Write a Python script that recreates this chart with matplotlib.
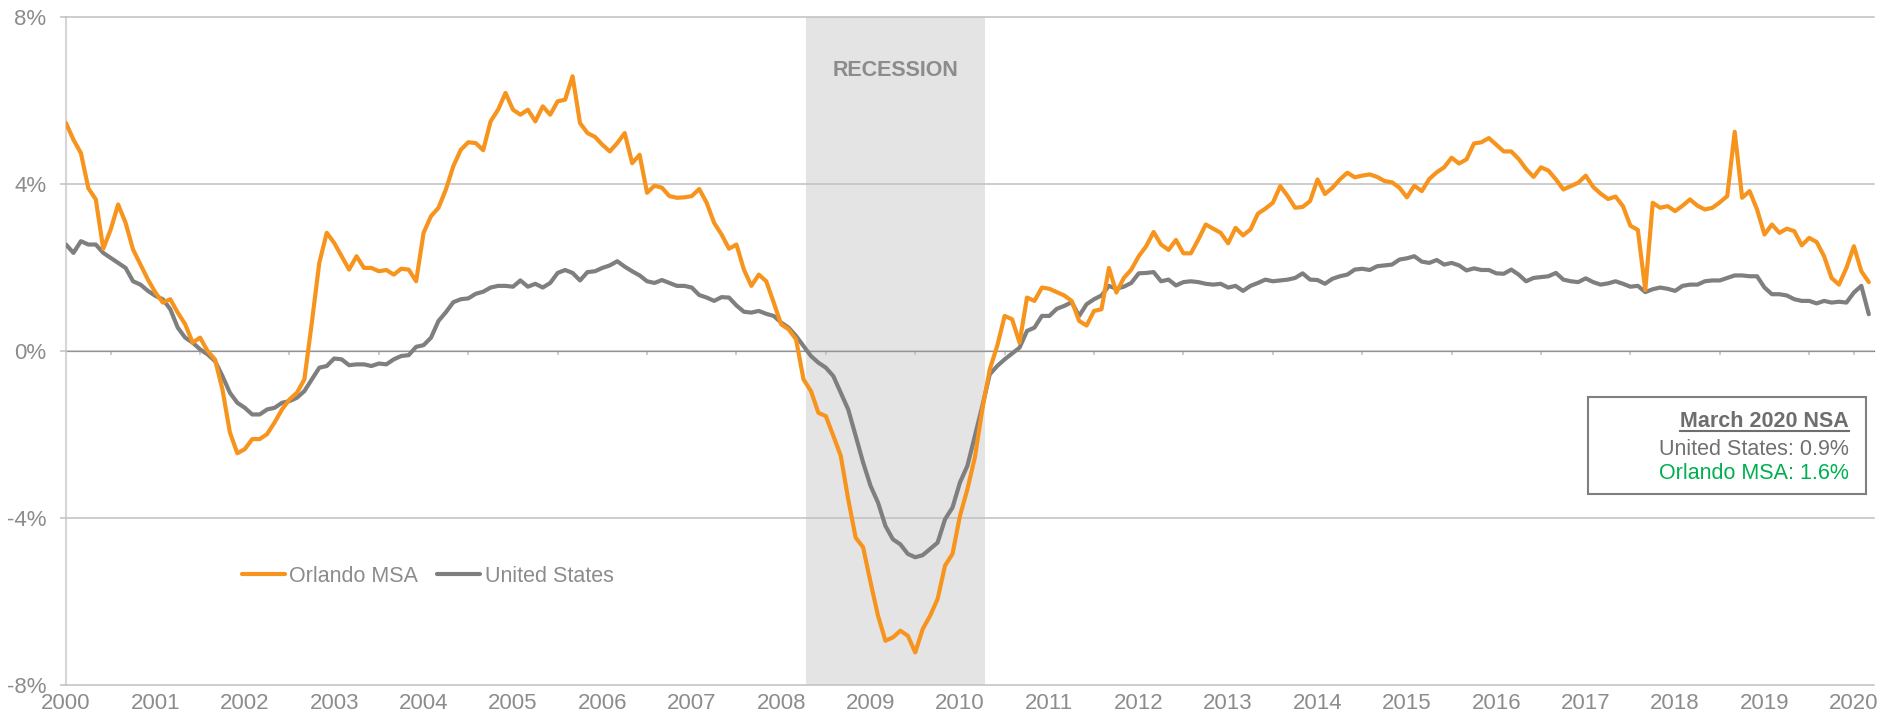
import numpy as np
import matplotlib
matplotlib.use("Agg")
import matplotlib.pyplot as plt
from matplotlib.lines import Line2D
from matplotlib.patches import Rectangle

plt.rcParams["font.family"] = ["Liberation Sans", "DejaVu Sans"]

# monthly values, Jan 2000 .. Mar 2020 (% change, year over year)
orlando = [
    5.46, 5.06, 4.74, 3.9, 3.63, 2.45, 2.91, 3.51, 3.07, 2.43, 2.07, 1.71,
    1.40, 1.16, 1.24, 0.92, 0.64, 0.2, 0.32, 0.0, -0.2, -0.92, -1.95, -2.45,
    -2.35, -2.11, -2.11, -1.99, -1.71, -1.40, -1.16, -1.0, -0.68, 0.68, 2.11, 2.83,
    2.59, 2.27, 1.95, 2.27, 1.99, 1.99, 1.91, 1.94, 1.83, 1.97, 1.95, 1.67,
    2.83, 3.23, 3.43, 3.87, 4.43, 4.82, 5.0, 4.98, 4.81, 5.5, 5.78, 6.18,
    5.78, 5.66, 5.78, 5.5, 5.86, 5.66, 5.98, 6.02, 6.58, 5.46, 5.22, 5.13,
    4.94, 4.78, 4.98, 5.22, 4.5, 4.7, 3.79, 3.96, 3.91, 3.71, 3.67, 3.68,
    3.71, 3.88, 3.55, 3.07, 2.79, 2.45, 2.55, 1.95, 1.56, 1.83, 1.67, 1.16,
    0.64, 0.52, 0.28, -0.68, -0.96, -1.48, -1.56, -2.03, -2.51, -3.55, -4.47, -4.7,
    -5.54, -6.34, -6.94, -6.86, -6.7, -6.82, -7.22, -6.66, -6.34, -5.94, -5.14, -4.86,
    -3.95, -3.31, -2.55, -1.4, -0.44, 0.12, 0.84, 0.76, 0.2, 1.28, 1.2, 1.52,
    1.49, 1.41, 1.33, 1.2, 0.72, 0.61, 0.96, 1.0, 1.99, 1.4, 1.75, 1.95,
    2.27, 2.51, 2.85, 2.55, 2.42, 2.66, 2.34, 2.34, 2.67, 3.03, 2.93, 2.83,
    2.58, 2.95, 2.77, 2.91, 3.29, 3.41, 3.55, 3.95, 3.71, 3.43, 3.45, 3.59,
    4.11, 3.76, 3.91, 4.11, 4.27, 4.16, 4.2, 4.23, 4.17, 4.07, 4.04, 3.91,
    3.68, 3.96, 3.83, 4.12, 4.28, 4.4, 4.63, 4.49, 4.59, 4.97, 5.0, 5.1,
    4.94, 4.78, 4.78, 4.6, 4.36, 4.17, 4.4, 4.32, 4.11, 3.87, 3.95, 4.03,
    4.2, 3.93, 3.77, 3.64, 3.7, 3.47, 3.0, 2.9, 1.46, 3.55, 3.43, 3.47,
    3.35, 3.48, 3.63, 3.48, 3.39, 3.43, 3.56, 3.71, 5.25, 3.67, 3.83, 3.39,
    2.79, 3.03, 2.83, 2.93, 2.87, 2.53, 2.71, 2.61, 2.27, 1.75, 1.59, 1.99,
    2.51, 1.91, 1.65,
]

united_states = [
    2.55, 2.35, 2.63, 2.55, 2.55, 2.35, 2.23, 2.11, 1.99, 1.67, 1.59, 1.44,
    1.32, 1.24, 1.0, 0.56, 0.32, 0.2, 0.04, -0.08, -0.24, -0.6, -1.0, -1.24,
    -1.36, -1.52, -1.52, -1.40, -1.36, -1.24, -1.2, -1.12, -0.96, -0.68, -0.4, -0.36,
    -0.18, -0.2, -0.34, -0.32, -0.32, -0.36, -0.3, -0.32, -0.2, -0.12, -0.1, 0.1,
    0.14, 0.32, 0.72, 0.93, 1.17, 1.24, 1.26, 1.37, 1.42, 1.52, 1.56, 1.56,
    1.54, 1.69, 1.54, 1.61, 1.52, 1.63, 1.87, 1.94, 1.87, 1.69, 1.89, 1.91,
    1.99, 2.05, 2.15, 2.02, 1.91, 1.81, 1.67, 1.63, 1.7, 1.63, 1.56, 1.56,
    1.52, 1.34, 1.28, 1.2, 1.29, 1.28, 1.09, 0.94, 0.92, 0.96, 0.89, 0.84,
    0.68, 0.56, 0.36, 0.12, -0.12, -0.28, -0.4, -0.6, -1.0, -1.4, -2.03, -2.67,
    -3.23, -3.63, -4.19, -4.51, -4.63, -4.86, -4.94, -4.89, -4.74, -4.59, -4.03, -3.75,
    -3.15, -2.75, -2.03, -1.32, -0.56, -0.36, -0.2, -0.06, 0.08, 0.48, 0.56, 0.84,
    0.84, 1.01, 1.08, 1.17, 0.84, 1.12, 1.24, 1.33, 1.56, 1.49, 1.54, 1.63,
    1.86, 1.87, 1.89, 1.67, 1.71, 1.57, 1.65, 1.67, 1.65, 1.61, 1.59, 1.61,
    1.52, 1.56, 1.44, 1.56, 1.63, 1.71, 1.67, 1.69, 1.71, 1.75, 1.86, 1.71,
    1.7, 1.61, 1.73, 1.79, 1.83, 1.95, 1.97, 1.94, 2.03, 2.05, 2.07, 2.19,
    2.22, 2.27, 2.14, 2.11, 2.18, 2.07, 2.11, 2.05, 1.93, 1.98, 1.94, 1.94,
    1.86, 1.85, 1.95, 1.83, 1.67, 1.75, 1.77, 1.79, 1.87, 1.71, 1.67, 1.65,
    1.74, 1.65, 1.59, 1.62, 1.67, 1.61, 1.54, 1.56, 1.41, 1.48, 1.52, 1.49,
    1.44, 1.56, 1.59, 1.59, 1.67, 1.69, 1.69, 1.75, 1.81, 1.81, 1.79, 1.79,
    1.52, 1.36, 1.36, 1.33, 1.24, 1.2, 1.2, 1.14, 1.2, 1.16, 1.18, 1.16,
    1.4, 1.56, 0.88,
]

years = [str(y) for y in range(2000, 2021)]
y_ticks = [-8, -4, 0, 4, 8]
y_labels = ["-8%", "-4%", "0%", "4%", "8%"]
recession = (99.3, 123.3)  # months since Jan 2000

ORANGE = "#F7941D"
GRAY_LINE = "#7F7F7F"
GRID = "#C0C0C0"
TXT = "#8C8C8C"

months = np.arange(len(orlando))

fig = plt.figure(figsize=(18.96, 7.25), dpi=100)
ax = fig.add_axes([66 / 1896, 1 - 685 / 725, 1808 / 1896, 668 / 725])

ax.axvspan(*recession, color="#E4E4E4", zorder=0, lw=0)
ax.text(sum(recession) / 2, 6.72, "RECESSION", ha="center", va="center",
        fontsize=15.5, fontweight="bold", color=TXT, zorder=3)

l1, = ax.plot(months, orlando, color=ORANGE, lw=3.0, label="Orlando MSA", zorder=4,
              solid_joinstyle="round", solid_capstyle="round")
l2, = ax.plot(months, united_states, color=GRAY_LINE, lw=3.0, label="United States", zorder=3,
              solid_joinstyle="round", solid_capstyle="round")

ax.set_xlim(0, 242.7)
ax.set_ylim(-8, 8)
ax.set_yticks(y_ticks)
ax.set_yticklabels(y_labels)
ax.set_xticks(np.arange(0, 241, 12))
ax.set_xticklabels(years)

ax.grid(axis="y", color=GRID, lw=1.1, zorder=1)
for gl in ax.yaxis.get_gridlines():
    gl.set_clip_on(False)
ax.set_axisbelow(False)

for side in ["top", "right", "bottom"]:
    ax.spines[side].set_visible(False)
ax.spines["left"].set_color("#D6D6D6")
ax.spines["left"].set_linewidth(1.5)
ax.spines["left"].set_zorder(2)

ax.tick_params(axis="y", length=4.3, width=1.1, color=GRID, pad=10,
               labelsize=16, labelcolor=TXT)
ax.tick_params(axis="x", length=0, pad=5.5, labelsize=16, labelcolor=TXT)

# small tick marks sitting on the 0% line
sec = ax.secondary_xaxis(0.5)
sec.set_xticks(list(np.arange(6, 240, 12)) + [240])
sec.set_xticklabels([])
sec.tick_params(direction="in", length=3, width=1.1, color=GRID)
sec.spines["bottom"].set_visible(False)

leg = ax.legend(handles=[l1, l2], loc="center", bbox_to_anchor=(0.2, 0.163), ncol=2,
                frameon=False, fontsize=15.5, handlelength=2.0, handletextpad=0.2,
                columnspacing=0.9, labelcolor=TXT)

# annotation box
fig.patches.append(Rectangle((1588 / 1896, 1 - 494 / 725), 278 / 1896, 97 / 725,
                             transform=fig.transFigure, facecolor="white",
                             edgecolor="#7F7F7F", lw=1.5, zorder=5))
xr = 1849 / 1896
t1 = fig.text(xr, 1 - 426.7 / 725, "March 2020 NSA", ha="right", va="baseline",
              fontsize=15.5, fontweight="bold", color="#6E6E6E", zorder=6)
fig.text(xr, 1 - 455 / 725, "United States: 0.9%", ha="right", va="baseline",
         fontsize=15.5, color="#707070", zorder=6)
fig.text(xr, 1 - 479.3 / 725, "Orlando MSA: 1.6%", ha="right", va="baseline",
         fontsize=15.5, color="#00B050", zorder=6)

fig.canvas.draw()
bb = t1.get_window_extent().transformed(fig.transFigure.inverted())
uy = 1 - 430.5 / 725
fig.lines.append(Line2D([bb.x0, bb.x1], [uy, uy], transform=fig.transFigure,
                        color="#6E6E6E", lw=1.5, zorder=6))

fig.savefig("out.png", dpi=100)
